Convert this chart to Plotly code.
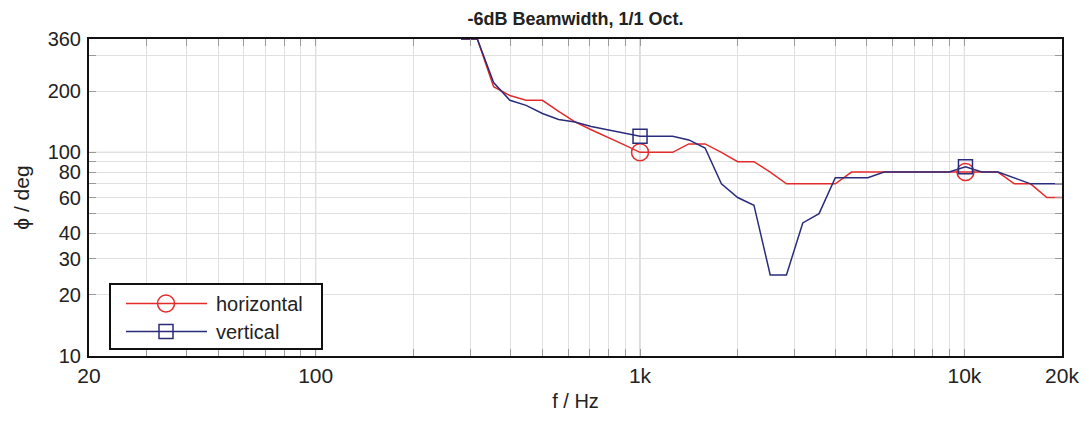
import plotly.graph_objects as go

# 1/6-octave frequency points (Hz)
freq = [280.6, 315.0, 353.6, 396.9, 445.4, 500.0, 561.2, 630.0, 707.1, 793.7,
        890.9, 1000, 1122, 1260, 1414, 1587, 1782, 2000, 2245, 2520,
        2828, 3175, 3564, 4000, 4490, 5040, 5657, 6350, 7127, 8000,
        8980, 10079, 11314, 12699, 14254, 16000, 17959, 20159]

horizontal = [360, 360, 210, 190, 180, 180, 159, 141, 129, 119,
              109, 100, 100, 100, 110, 110, 100, 90, 90, 80,
              70, 70, 70, 70, 80, 80, 80, 80, 80, 80,
              80, 80, 80, 80, 70, 70, 60, 60]

vertical = [360, 360, 220, 180, 170, 155, 145, 141, 134, 129,
            124, 120, 120, 120, 115, 105, 70, 60, 55, 25,
            25, 45, 50, 75, 75, 75, 80, 80, 80, 80,
            80, 85, 80, 80, 75, 70, 70, 70]

marker_idx = [11, 31]  # points carrying markers (1 kHz, 10 kHz)

x_tickvals = [20, 30, 40, 50, 60, 70, 80, 90, 100, 200, 300, 400, 500, 600, 700, 800, 900,
              1000, 2000, 3000, 4000, 5000, 6000, 7000, 8000, 9000, 10000, 20000]
x_ticktext = ["20"] + [""] * 7 + ["100"] + [""] * 8 + ["1k"] + [""] * 8 + ["10k", "20k"]
y_tickvals = [10, 20, 30, 40, 50, 60, 70, 80, 90, 100, 200, 300, 360]
y_ticktext = ["10", "20", "30", "40", "", "60", "", "80", "", "100", "200", "", "360"]
dark_x = [100, 1000, 10000]
dark_y = [100]

RED = "#e32b2b"
NAVY = "#2b2b7c"
FONT = "Liberation Sans, Arial, Helvetica, sans-serif"

# page body has an 8px margin: figure is sized/offset to compensate
FIG_W, FIG_H = 1081, 415
ML, MR, MT, MB = 81, 27, 31, 67
W = FIG_W - ML - MR
H = FIG_H - MT - MB

fig = go.Figure()
fig.add_trace(go.Scatter(x=freq, y=horizontal, mode="lines", name="horizontal",
                         line=dict(color=RED, width=1.5), showlegend=False))
fig.add_trace(go.Scatter(x=freq, y=vertical, mode="lines", name="vertical",
                         line=dict(color=NAVY, width=1.5), showlegend=False))
fig.add_trace(go.Scatter(x=[freq[i] for i in marker_idx], y=[horizontal[i] for i in marker_idx],
                         mode="markers", showlegend=False,
                         marker=dict(symbol="circle-open", size=17, color=RED, line=dict(width=1.5, color=RED))))
fig.add_trace(go.Scatter(x=[freq[i] for i in marker_idx], y=[vertical[i] for i in marker_idx],
                         mode="markers", showlegend=False,
                         marker=dict(symbol="square-open", size=14, color=NAVY, line=dict(width=1.5, color=NAVY))))

for xv in dark_x:
    fig.add_shape(type="line", x0=xv, x1=xv, y0=0, y1=1, xref="x", yref="paper",
                  line=dict(color="#b9b9b9", width=1), layer="between")
for yv in dark_y:
    fig.add_shape(type="line", x0=0, x1=1, y0=yv, y1=yv, xref="paper", yref="y",
                  line=dict(color="#b9b9b9", width=1), layer="between")

# legend (drawn manually), positions given in page pixels
def px(x):
    return (x - 8 - ML) / W
def py(y):
    return (MT + H - (y - 8)) / H

fig.add_shape(type="rect", xref="paper", yref="paper", x0=px(110), x1=px(322), y0=py(349), y1=py(284),
              line=dict(color="#111", width=2), fillcolor="white", layer="above")
for yy, col, sym, name in [(303.5, RED, "circle", "horizontal"), (331.5, NAVY, "square", "vertical")]:
    fig.add_shape(type="line", xref="paper", yref="paper", x0=px(126), x1=px(207), y0=py(yy), y1=py(yy),
                  line=dict(color=col, width=1.5), layer="above")
    if sym == "circle":
        fig.add_shape(type="circle", xref="paper", yref="paper", xsizemode="pixel", ysizemode="pixel",
                      xanchor=px(166), yanchor=py(yy), x0=-8.5, x1=8.5, y0=-8.5, y1=8.5,
                      line=dict(color=col, width=1.5), fillcolor="rgba(0,0,0,0)", layer="above")
    else:
        fig.add_shape(type="rect", xref="paper", yref="paper", xsizemode="pixel", ysizemode="pixel",
                      xanchor=px(166), yanchor=py(yy), x0=-7, x1=7, y0=-7, y1=7,
                      line=dict(color=col, width=1.5), fillcolor="rgba(0,0,0,0)", layer="above")
    fig.add_annotation(xref="paper", yref="paper", x=px(214), y=py(yy), text=name, showarrow=False,
                       xanchor="left", yanchor="middle", font=dict(family=FONT, size=20, color="#222"))

axis_common = dict(type="log", showline=True, linecolor="#111", linewidth=2, mirror="ticks",
                   ticks="inside", ticklen=7, tickcolor="#9a9a9a", tickwidth=1,
                   showgrid=True, gridcolor="#e0e0e0", gridwidth=1, zeroline=False)

fig.update_xaxes(**axis_common, range=[1.30103, 4.30103], tickmode="array",
                 tickvals=x_tickvals, ticktext=x_ticktext,
                 tickfont=dict(family=FONT, size=21, color="#222"),
                 title=dict(text="f / Hz", font=dict(family=FONT, size=20, color="#222"), standoff=8))
fig.update_yaxes(**axis_common, range=[1, 2.5563], tickmode="array",
                 tickvals=y_tickvals, ticktext=y_ticktext, ticklabelstandoff=2,
                 tickfont=dict(family=FONT, size=20, color="#222"),
                 title=dict(text="ϕ / deg", font=dict(family=FONT, size=21, color="#222"), standoff=12))

fig.update_layout(
    width=FIG_W, height=FIG_H,
    margin=dict(l=ML, r=MR, t=MT, b=MB, autoexpand=False),
    paper_bgcolor="white", plot_bgcolor="white",
    showlegend=False,
    title=dict(text="<b>-6dB Beamwidth, 1/1 Oct.</b>", x=0.5, xref="paper", y=1 - 11 / FIG_H,
               yref="container", xanchor="center", yanchor="middle",
               font=dict(family=FONT, size=18, color="#222")),
)

fig.write_html("out.html")
